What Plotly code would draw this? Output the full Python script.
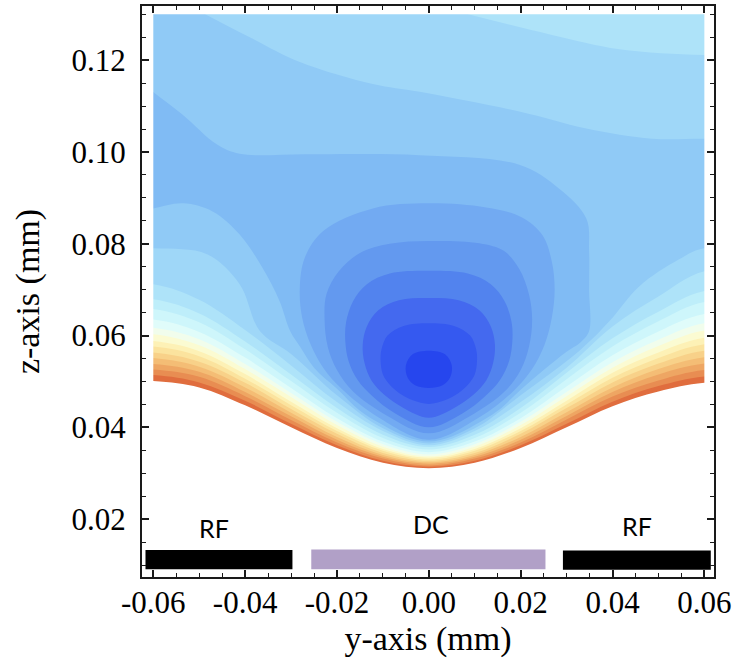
import plotly.graph_objects as go

# ---------------- data (mm) ----------------
x_cols = [-0.06, -0.05, -0.04, -0.03, -0.02, -0.01, 0.0, 0.01, 0.02, 0.03, 0.04, 0.05, 0.06]
z_top = 0.130

# outer contour levels (curves that run edge to edge above the trap surface); level 22 = edge of plot range
lower_levels = [10, 11, 12, 13, 14, 15, 16, 17, 18, 19, 20, 21, 22]
lower_z = [
    [.0679, .0648, .0587, .0515, .0442, .0384, .0357, .0384, .0442, .0519, .0594, .0652, .0697],
    [.0658, .0629, .0570, .0501, .0432, .0377, .0352, .0377, .0432, .0505, .0576, .0631, .0673],
    [.0635, .0608, .0552, .0486, .0420, .0369, .0346, .0369, .0420, .0489, .0557, .0609, .0647],
    [.0617, .0592, .0538, .0475, .0412, .0363, .0341, .0363, .0412, .0477, .0542, .0591, .0627],
    [.0603, .0579, .0527, .0466, .0405, .0358, .0337, .0358, .0405, .0468, .0530, .0577, .0611],
    [.0588, .0566, .0516, .0456, .0398, .0353, .0334, .0353, .0398, .0458, .0519, .0563, .0595],
    [.0576, .0555, .0506, .0448, .0392, .0349, .0330, .0349, .0392, .0450, .0508, .0551, .0581],
    [.0563, .0543, .0497, .0440, .0386, .0344, .0327, .0344, .0386, .0442, .0498, .0539, .0567],
    [.0551, .0532, .0487, .0432, .0379, .0340, .0324, .0340, .0379, .0433, .0487, .0527, .0553],
    [.0538, .0521, .0477, .0424, .0373, .0336, .0321, .0336, .0373, .0425, .0477, .0515, .0539],
    [.0526, .0510, .0468, .0416, .0367, .0332, .0317, .0332, .0367, .0417, .0467, .0502, .0525],
    [.0514, .0498, .0458, .0408, .0361, .0327, .0314, .0327, .0361, .0408, .0456, .0490, .0511],
    [.0501, .0487, .0448, .0400, .0355, .0323, .0311, .0323, .0355, .0400, .0446, .0478, .0497],
]

level9_bottom_z = [.0712, .0678, .0612, .0535, .0455, .0392, .0361, .0392, .0455, .0530, .0620, .0685, .0740]
level9_top_x = [0.0094, 0.0268, 0.0415, 0.0599]
level9_top_z = [0.1298, 0.1255, 0.1224, 0.1211]

level8_top_x = [-.0483, -.0390, -.0281, -.0122, -.0020, .0197, .0343, .0486, .0599]
level8_top_z = [.1298, .1250, .1196, .1148, .1131, .1088, .1051, .1029, .1029]
level8_bottom_x = [-.0600, -.0483, -.0412, -.0368, -.0300, -.0200, -.0100, 0.0, .0100, .0200, .0328, .0393, .0458, .0545, .0599]
level8_bottom_z = [.0790, .0777, .0712, .0610, .0560, .0470, .0398, .0365, .0398, .0470, .0567, .0631, .0707, .0766, .0790]

level7_x = [-.0601, -.0536, -.0461, -.0412, -.0267, -.0020, .0197, .0284, .0343, .0349, .0349, .0349, .0330,
            .0300, .0250, .0200, .0150, .0100, .0050, 0.0, -.0050, -.0100, -.0150, -.0200, -.0250, -.0280,
            -.0302, -.0325, -.0362, -.0412, -.0470, -.0535, -.0601]
level7_z = [.1131, .1081, .1016, .0996, .0995, .0993, .0972, .0920, .0855, .0784, .0700, .0610, .0585,
            .0565, .0525, .0482, .0436, .0405, .0380, .0369, .0380, .0405, .0436, .0484, .0530, .0575,
            .0610, .0675, .0747, .0820, .0870, .0888, .0877]

# closed contours around the trap minimum (level 6 outermost ... level 1 innermost)
ring6_x = [0, .0125, .0202, .0248, .0268, .0274, .0268, .0252, .0225, .0185, .0110, 0, -.0110, -.0190, -.0230, -.0258, -.0276, -.0281, -.0270, -.0230, -.0122]
ring6_z = [.0888, .0879, .0858, .0818, .0760, .0700, .0640, .0580, .0527, .0480, .0422, .0373, .0422, .0484, .0530, .0582, .0640, .0703, .0770, .0828, .0877]
ring5_x = [0, .0110, .0164, .0197, .0218, .0225, .0218, .0200, .0165, .0090, 0, -.0090, -.0165, -.0200, -.0220, -.0227, -.0223, -.0196, -.0150, -.0085]
ring5_z = [.0806, .0801, .0784, .0745, .0690, .0635, .0575, .0525, .0478, .0425, .0387, .0425, .0478, .0525, .0575, .0635, .0690, .0740, .0780, .0800]
ring4_x = [0, .0085, .0135, .0165, .0180, .0182, .0175, .0155, .0122, .0073, 0, -.0073, -.0122, -.0155, -.0175, -.0182, -.0180, -.0165, -.0135, -.0085]
ring4_z = [.0741, .0735, .0712, .0675, .0630, .0590, .0545, .0503, .0467, .0430, .0400, .0430, .0467, .0503, .0545, .0590, .0630, .0675, .0712, .0735]
ring3_x = [0, .0065, .0110, .0135, .0144, .0140, .0125, .0097, .0058, 0, -.0058, -.0097, -.0125, -.0140, -.0144, -.0135, -.0110, -.0065]
ring3_z = [.0682, .0677, .0655, .0620, .0580, .0540, .0502, .0471, .0444, .0421, .0444, .0471, .0502, .0540, .0580, .0620, .0655, .0677]
ring2_x = [0, .0055, .0090, .0103, .0105, .0100, .0087, .0065, .0035, 0, -.0035, -.0065, -.0087, -.0100, -.0105, -.0103, -.0090, -.0055]
ring2_z = [.0627, .0621, .0600, .0570, .0545, .0515, .0495, .0475, .0459, .0451, .0459, .0475, .0495, .0515, .0545, .0570, .0600, .0621]
ring1_x = [0, .0036, .0050, .0046, .0030, 0, -.0030, -.0046, -.0050, -.0036]
ring1_z = [.0567, .0559, .0535, .0508, .0492, .0486, .0492, .0508, .0535, .0559]

# fill colour of band k (between level k and k+1), k = 0 (trap minimum) ... 21
band_colors = ["#2646ee", "#3559f0", "#4469ef", "#5283ee", "#6399ef", "#72aaf2", "#80bbf4", "#90caf6",
               "#9fd7f8", "#aee3f9", "#beeefa", "#cef6fb", "#e0fcfa", "#f1fdec", "#fbfbd2", "#fdf1b6",
               "#fbe39e", "#f8d189", "#f4bd75", "#eea663", "#e88d52", "#e06d3e"]

electrode_labels = ["RF", "DC", "RF"]
electrode_colors = ["#000000", "#b1a0c7", "#000000"]
electrode_x0 = [-0.0617, -0.0256, 0.0292]
electrode_x1 = [-0.0297, 0.0254, 0.0614]
electrode_z0 = [0.0091, 0.0091, 0.0090]
electrode_z1 = [0.0133, 0.0134, 0.0132]
electrode_label_x = [-0.0468, 0.0004, 0.0453]
electrode_label_z = [0.0181, 0.0189, 0.0185]

x_ticks = [-0.06, -0.04, -0.02, 0.0, 0.02, 0.04, 0.06]
x_tick_text = ["-0.06", "-0.04", "-0.02", "0.00", "0.02", "0.04", "0.06"]
x_minor = [-0.055, -0.05, -0.045, -0.035, -0.03, -0.025, -0.015, -0.01, -0.005,
           0.005, 0.01, 0.015, 0.025, 0.03, 0.035, 0.045, 0.05, 0.055]
y_ticks = [0.02, 0.04, 0.06, 0.08, 0.10, 0.12]
y_tick_text = ["0.02", "0.04", "0.06", "0.08", "0.10", "0.12"]
y_minor = [0.01, 0.015, 0.025, 0.03, 0.035, 0.045, 0.05, 0.055, 0.065, 0.07, 0.075,
           0.085, 0.09, 0.095, 0.105, 0.11, 0.115, 0.125, 0.13]

x_range = [-0.06246, 0.0621]
y_range = [0.0074, 0.1318]

# ---------------- figure ----------------
fig = go.Figure()
FAR = 0.08  # construction points outside the visible frame


def add_fill(xs, zs, color, closed=False, spline=True):
    xs, zs = list(xs), list(zs)
    if closed:
        xs.append(xs[0])
        zs.append(zs[0])
    fig.add_trace(go.Scatter(
        x=xs, y=zs, mode="lines", fill="toself", fillcolor=color,
        line=dict(width=0, color=color, shape="spline" if spline else "linear",
                  smoothing=1, simplify=False),
        hoverinfo="skip", showlegend=False))


# sub-level regions painted from the highest level down
for lev, zs in reversed(list(zip(lower_levels, lower_z))):
    xs = [-FAR, FAR, FAR] + x_cols[::-1] + [-FAR]
    zz = [0.15, 0.15, zs[-1]] + zs[::-1] + [zs[0]]
    add_fill(xs, zz, band_colors[lev - 1])

# level 9 region
xs = [-FAR, -0.008] + level9_top_x + [FAR, FAR] + x_cols[::-1] + [-FAR]
zz = [0.14, 0.1345] + level9_top_z + [level9_top_z[-1], level9_bottom_z[-1]] + level9_bottom_z[::-1] + [level9_bottom_z[0]]
add_fill(xs, zz, band_colors[8])

# level 8 region
xs = [-FAR, -0.0576] + level8_top_x + [FAR, FAR] + level8_bottom_x[::-1] + [-FAR]
zz = [0.14, 0.1346] + level8_top_z + [level8_top_z[-1], level8_bottom_z[-1]] + level8_bottom_z[::-1] + [level8_bottom_z[0]]
add_fill(xs, zz, band_colors[7])

# level 7 region
xs = [-FAR, -0.0666] + level7_x + [-0.0667, -FAR]
zz = [0.125, 0.1181] + level7_z + [0.0866, 0.085]
add_fill(xs, zz, band_colors[6])

# closed rings
for k, (rx, rz) in zip([5, 4, 3, 2, 1, 0],
                       [(ring6_x, ring6_z), (ring5_x, ring5_z), (ring4_x, ring4_z),
                        (ring3_x, ring3_z), (ring2_x, ring2_z), (ring1_x, ring1_z)]):
    add_fill(rx, rz, band_colors[k], closed=True)

# white masks outside the computed region
xl, xr = x_cols[0], x_cols[-1]
add_fill([-FAR, xl, xl, -FAR], [-0.1, -0.1, 0.3, 0.3], "white", spline=False)
add_fill([xr, FAR, FAR, xr], [-0.1, -0.1, 0.3, 0.3], "white", spline=False)
add_fill([-FAR, FAR, FAR, -FAR], [z_top, z_top, 0.3, 0.3], "white", spline=False)

# electrodes
for name, c, x0, x1, z0, z1 in zip(electrode_labels, electrode_colors, electrode_x0,
                                   electrode_x1, electrode_z0, electrode_z1):
    add_fill([x0, x1, x1, x0], [z0, z0, z1, z1], c, spline=False)

for name, lx, lz in zip(electrode_labels, electrode_label_x, electrode_label_z):
    fig.add_annotation(x=lx, y=lz, text=name, showarrow=False, xanchor="center", yanchor="middle",
                       font=dict(family="Lato", size=25, color="black"))

axis_common = dict(
    showgrid=False, zeroline=False, showline=True, linewidth=2, linecolor="#1a1a1a",
    mirror="allticks", ticks="inside", ticklen=7, tickwidth=1.5, tickcolor="#1a1a1a",
    tickmode="array",
    tickfont=dict(family="Liberation Serif", size=31, color="black"),
)

fig.update_xaxes(
    range=x_range, tickvals=x_ticks, ticktext=x_tick_text,
    minor=dict(tickmode="array", tickvals=x_minor, ticks="inside", ticklen=4, tickwidth=1.2,
               tickcolor="#1a1a1a", showgrid=False),
    title=dict(text="y-axis (mm)", font=dict(family="Liberation Serif", size=34, color="black"),
               standoff=7),
    ticklabelstandoff=-3,
    **axis_common)
fig.update_yaxes(
    range=y_range, tickvals=y_ticks, ticktext=y_tick_text,
    minor=dict(tickmode="array", tickvals=y_minor, ticks="inside", ticklen=4, tickwidth=1.2,
               tickcolor="#1a1a1a", showgrid=False),
    title=dict(text="z-axis (mm)", font=dict(family="Liberation Serif", size=34, color="black"),
               standoff=22),
    ticklabelstandoff=8,
    **axis_common)

fig.update_layout(
    width=735, height=668,
    margin=dict(l=142, r=20, t=4, b=91),
    paper_bgcolor="white", plot_bgcolor="white",
    showlegend=False,
)

fig.write_html("out.html")
